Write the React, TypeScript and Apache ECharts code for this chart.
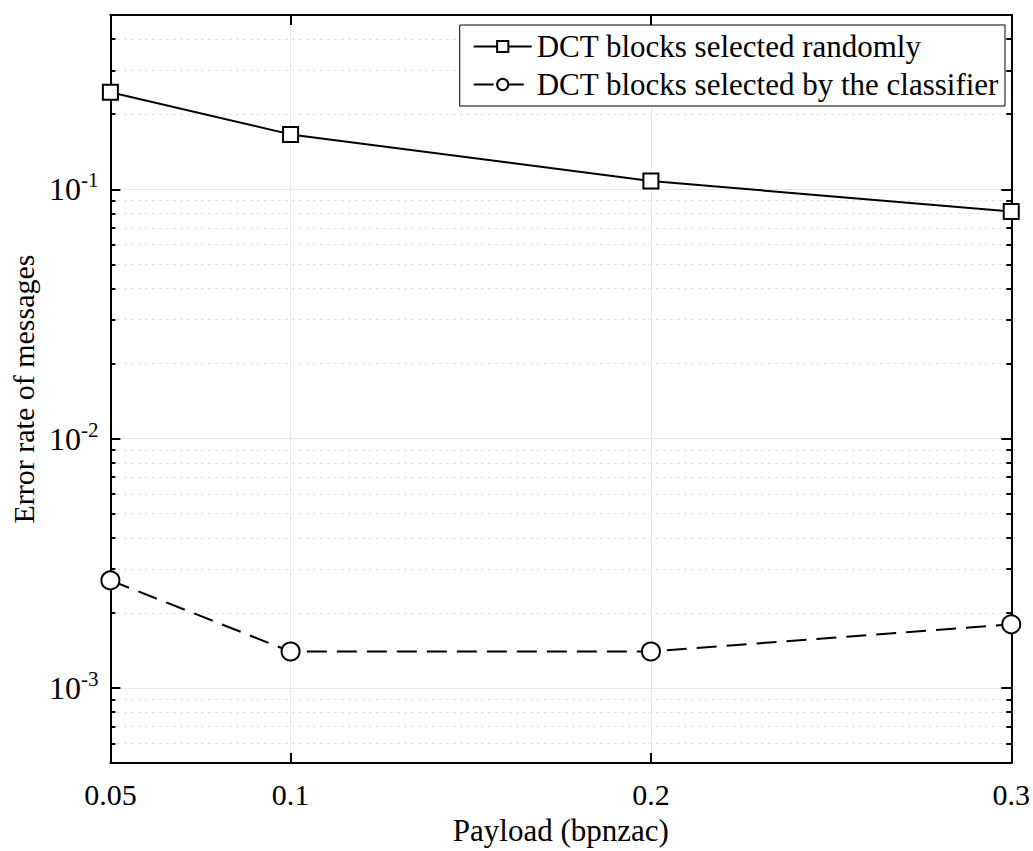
import React, { useEffect, useRef } from "react";
import * as echarts from "echarts";

const FONT = "Liberation Serif";

const payload = [0.05, 0.1, 0.2, 0.3];
const randomErr = [0.245, 0.166, 0.108, 0.0814];
const classifierErr = [0.0027, 0.0014, 0.0014, 0.0018];
const seriesNames = ["DCT blocks selected randomly", "DCT blocks selected by the classifier"];

const xTicks = [0.05, 0.1, 0.2, 0.3];
const yMajor = [0.001, 0.01, 0.1];
const yMinor = [
  0.0006, 0.0007, 0.0008, 0.0009,
  0.002, 0.003, 0.004, 0.005, 0.006, 0.007, 0.008, 0.009,
  0.02, 0.03, 0.04, 0.05, 0.06, 0.07, 0.08, 0.09,
  0.2, 0.3, 0.4,
];
const yMin = 0.0005;
const yMax = 0.5;
const xMin = 0.05;
const xMax = 0.3;

export default function App() {
  const ref = useRef<HTMLDivElement>(null);
  useEffect(() => {
    document.body.style.margin = "0";
    const chart = echarts.init(ref.current!, null, { renderer: "svg" });
    const black = "#000";
    const axisLine = { show: true, onZero: false, lineStyle: { color: black, width: 2 } };
    const yBase = { type: "log" as const, logBase: 10, min: yMin, max: yMax };
    const legendText = { fontSize: 31, fontFamily: FONT, color: black };
    chart.setOption({
      animation: false,
      backgroundColor: "#fff",
      textStyle: { fontFamily: FONT, color: black },
      grid: { left: 108, right: 20, top: 15, bottom: 85 },
      legend: {
        orient: "vertical",
        right: 28,
        top: 25,
        backgroundColor: "#fff",
        borderColor: "#000",
        borderWidth: 1,
        borderRadius: 0,
        padding: [6, 6, 6, 13],
        itemWidth: 58,
        itemHeight: 14,
        itemGap: 7,
        textStyle: legendText,
        data: seriesNames,
      },
      xAxis: [
        {
          type: "value",
          min: xMin,
          max: xMax,
          position: "bottom",
          axisLine,
          axisTick: { show: true, inside: true, length: 10, customValues: xTicks, lineStyle: { color: black, width: 2 } },
          axisLabel: {
            customValues: xTicks,
            fontSize: 30,
            fontFamily: FONT,
            color: black,
            margin: 16,
            formatter: (v: number) => String(v),
          },
          splitLine: { show: true, lineStyle: { color: "#e6e6e6", width: 1 } },
          name: "Payload (bpnzac)",
          nameLocation: "middle",
          nameGap: 52,
          nameTextStyle: { fontSize: 31, fontFamily: FONT, color: black },
        },
        {
          type: "value",
          min: xMin,
          max: xMax,
          position: "top",
          axisLine,
          axisTick: { show: true, inside: true, length: 10, customValues: xTicks, lineStyle: { color: black, width: 2 } },
          axisLabel: { show: false },
          splitLine: { show: false },
        },
      ],
      yAxis: [
        {
          ...yBase,
          position: "left",
          axisLine,
          axisTick: { show: true, inside: true, length: 10, customValues: yMajor, lineStyle: { color: black, width: 2 } },
          axisLabel: {
            customValues: yMajor,
            margin: 12,
            color: black,
            formatter: (v: number) => `{b|10}{s|${Math.round(Math.log10(v))}}`,
            rich: {
              b: { fontSize: 32, fontFamily: FONT, color: black },
              s: { fontSize: 21, fontFamily: FONT, color: black, padding: [0, 0, 18, 0] },
            },
          },
          splitLine: { show: true, lineStyle: { color: "#e6e6e6", width: 1 } },
          name: "Error rate of messages",
          nameLocation: "middle",
          nameGap: 66,
          nameTextStyle: { fontSize: 30, fontFamily: FONT, color: black },
        },
        {
          ...yBase,
          position: "left",
          axisLine: { show: false },
          axisTick: { show: true, inside: true, length: 5, customValues: yMinor, lineStyle: { color: black, width: 2 } },
          axisLabel: { show: false },
          splitLine: { show: true, lineStyle: { color: "#d4d4d4", width: 1, type: [2, 5] } },
        },
        {
          ...yBase,
          position: "right",
          axisLine,
          axisTick: { show: true, inside: true, length: 10, customValues: yMajor, lineStyle: { color: black, width: 2 } },
          axisLabel: { show: false },
          splitLine: { show: false },
        },
        {
          ...yBase,
          position: "right",
          axisLine: { show: false },
          axisTick: { show: true, inside: true, length: 5, customValues: yMinor, lineStyle: { color: black, width: 2 } },
          axisLabel: { show: false },
          splitLine: { show: false },
        },
      ],
      series: [
        {
          name: seriesNames[0],
          type: "line",
          xAxisIndex: 0,
          yAxisIndex: 0,
          data: payload.map((x, i) => [x, randomErr[i]]),
          symbol: "rect",
          symbolSize: 15,
          showAllSymbol: true,
          clip: false,
          lineStyle: { color: black, width: 2, type: "solid" },
          itemStyle: { color: "#fff", borderColor: black, borderWidth: 2 },
          z: 5,
        },
        {
          name: seriesNames[1],
          type: "line",
          xAxisIndex: 0,
          yAxisIndex: 0,
          data: payload.map((x, i) => [x, classifierErr[i]]),
          symbol: "circle",
          symbolSize: 18,
          showAllSymbol: true,
          clip: false,
          lineStyle: { color: black, width: 2, type: [20, 10] },
          itemStyle: { color: "#fff", borderColor: black, borderWidth: 2 },
          z: 5,
        },
      ],
    });
    return () => chart.dispose();
  }, []);
  return <div ref={ref} style={{ width: 1033, height: 851 }} />;
}
